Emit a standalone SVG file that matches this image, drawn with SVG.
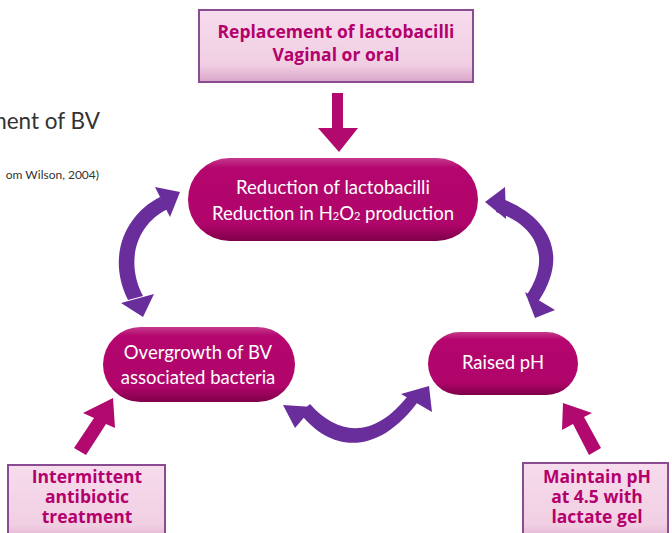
<svg xmlns="http://www.w3.org/2000/svg" width="672" height="533" viewBox="0 0 672 533">
<defs>
<linearGradient id="pill" x1="0" y1="0" x2="0" y2="1">
<stop offset="0" stop-color="#c53a8c"/>
<stop offset="0.12" stop-color="#b4066e"/>
<stop offset="0.8" stop-color="#b0056a"/>
<stop offset="1" stop-color="#7e0049"/>
</linearGradient>
<linearGradient id="box" x1="0" y1="0" x2="0" y2="1">
<stop offset="0" stop-color="#f6dcec"/>
<stop offset="0.75" stop-color="#f1cfe3"/>
<stop offset="1" stop-color="#d9a6c8"/>
</linearGradient>
<style>
.pill{fill:url(#pill);}
.box{fill:url(#box);stroke:#8a4b92;stroke-width:2;}
.pt{font-family:"Lato","Open Sans",sans-serif;font-size:18.5px;fill:#ffffff;text-anchor:middle;}
.bt{font-family:"Open Sans","Liberation Sans",sans-serif;font-weight:bold;font-size:17.5px;fill:#b3006c;text-anchor:middle;}
.mag{fill:#b1096d;}
.pur{fill:#6a2d9c;}
.title{font-family:"Lato","Open Sans",sans-serif;fill:#333333;}
</style>
</defs>
<rect width="672" height="533" fill="#ffffff"/>
<text class="title" x="100" y="129" font-size="22.5" text-anchor="end">ment of BV</text>
<text class="title" x="99" y="179" font-size="12" text-anchor="end">om Wilson, 2004)</text>

<g id="connectors">
<!-- down arrow -->
<polygon class="mag" points="332,93 343,93 343,128 358,128 339,152 318,128 332,128"/>
<!-- left double curved arrow -->
<path class="pur" d="M160,197 C126,214 106,256 128,300 L143,296 C125,262 136,224 168,209 Z"/>
<polygon class="pur" points="180,192 155,187 170,217"/>
<polygon class="pur" points="143,317 121,303 154,294"/>
<!-- right double curved arrow -->
<path class="pur" d="M500,198 C545,214 572,252 538,302 L526,296 C554,256 534,224 496,212 Z"/>
<polygon class="pur" points="485,202 505,187 506,219"/>
<polygon class="pur" points="535,318 525,292 555,310"/>
<!-- bottom double curved arrow -->
<path class="pur" d="M300,413 C330,452 378,458 420,399 L410,393 C375,440 338,436 310,404 Z"/>
<polygon class="pur" points="283,405 313,407 295,428"/>
<polygon class="pur" points="429,386 401,394 432,412"/>
<!-- bottom-left magenta arrow -->
<polygon class="mag" points="113,398 83,413 94,418 74,448 86,455 106,424 115,428"/>
<!-- bottom-right magenta arrow -->
<polygon class="mag" points="563,403 562,430 573,424 589,455 601,448 584,417 592,413"/>
</g>

<g id="replacement">
<rect class="box" x="199" y="10" width="274" height="72"/>
<text class="bt" x="336" y="38" font-size="18">Replacement of lactobacilli</text>
<text class="bt" x="336" y="61" font-size="18">Vaginal or oral</text>
</g>

<g id="reduction">
<rect class="pill" x="188" y="158" width="290" height="83" rx="41.5"/>
<text class="pt" x="333" y="194">Reduction of lactobacilli</text>
<text class="pt" x="333" y="220">Reduction in H<tspan font-size="11">2</tspan>O<tspan font-size="11">2</tspan> production</text>
</g>

<g id="overgrowth">
<rect class="pill" x="103" y="327" width="192" height="75" rx="37.5"/>
<text class="pt" x="198" y="359" font-size="19.5">Overgrowth of BV</text>
<text class="pt" x="198" y="384" font-size="19.5">associated bacteria</text>
</g>

<g id="raisedph">
<rect class="pill" x="428" y="332" width="150" height="63" rx="31.5"/>
<text class="pt" x="503" y="369" font-size="20">Raised pH</text>
</g>

<g id="antibiotic">
<rect class="box" x="8" y="465" width="157" height="80"/>
<text class="bt" x="87" y="483">Intermittent</text>
<text class="bt" x="87" y="503">antibiotic</text>
<text class="bt" x="87" y="523">treatment</text>
</g>

<g id="lactategel">
<rect class="box" x="523" y="463" width="145" height="82"/>
<text class="bt" x="597" y="483">Maintain pH</text>
<text class="bt" x="597" y="503">at 4.5 with</text>
<text class="bt" x="597" y="523">lactate gel</text>
</g>
</svg>
